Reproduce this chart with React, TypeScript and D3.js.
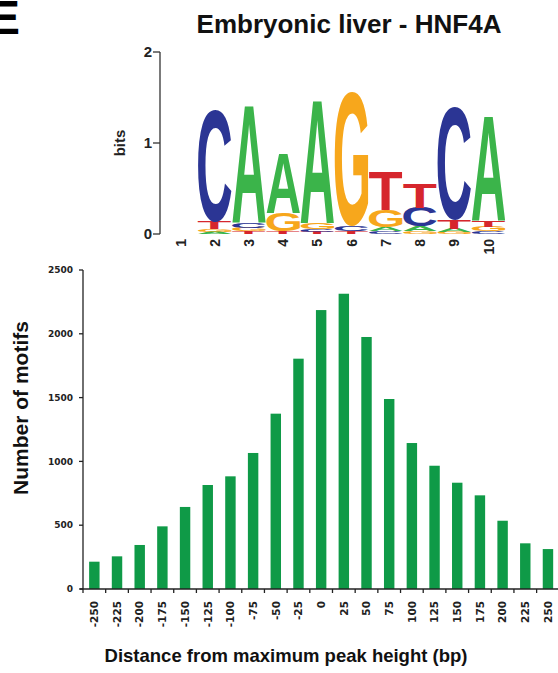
import React, { useMemo } from "react";
import * as d3 from "d3";

// ---------- data ----------
const logoPositions = ["1", "2", "3", "4", "5", "6", "7", "8", "9", "10"];
// stacks listed bottom -> top, heights in bits
const logoStacks: [string, number][][] = [
  [],
  [["A", 0.02], ["G", 0.03], ["T", 0.09], ["C", 1.235]],
  [["T", 0.03], ["G", 0.04], ["C", 0.05], ["A", 1.3]],
  [["T", 0.03], ["G", 0.2], ["A", 0.65]],
  [["T", 0.02], ["C", 0.03], ["G", 0.07], ["A", 1.36]],
  [["T", 0.03], ["C", 0.06], ["G", 1.47]],
  [["C", 0.03], ["A", 0.04], ["G", 0.19], ["T", 0.42]],
  [["G", 0.03], ["A", 0.05], ["C", 0.21], ["T", 0.27]],
  [["G", 0.02], ["A", 0.04], ["T", 0.1], ["C", 1.25]],
  [["C", 0.03], ["G", 0.05], ["T", 0.07], ["A", 1.15]],
];
const bitTicks = [0, 1, 2];

const distances = [-250, -225, -200, -175, -150, -125, -100, -75, -50, -25, 0, 25, 50, 75, 100, 125, 150, 175, 200, 225, 250];
const motifCounts = [214, 256, 345, 491, 643, 815, 883, 1066, 1374, 1805, 2186, 2314, 1975, 1489, 1144, 966, 833, 734, 535, 358, 313];
const countTicks = [0, 500, 1000, 1500, 2000, 2500];

const baseColors: Record<string, string> = {
  A: "#3bb44a",
  C: "#2b3594",
  G: "#f7a71c",
  T: "#d6262d",
};

const LOGO_FONT = "'Liberation Sans', Arial, sans-serif";

function useGlyphMetrics() {
  return useMemo(() => {
    const ctx = document.createElement("canvas").getContext("2d")!;
    ctx.font = `bold 100px ${LOGO_FONT}`;
    const out: Record<string, { l: number; r: number; a: number; d: number }> = {};
    for (const ch of ["A", "C", "G", "T"]) {
      const m = ctx.measureText(ch);
      out[ch] = {
        l: m.actualBoundingBoxLeft,
        r: m.actualBoundingBoxRight,
        a: m.actualBoundingBoxAscent,
        d: m.actualBoundingBoxDescent,
      };
    }
    return out;
  }, []);
}

export default function App() {
  const gm = useGlyphMetrics();

  // logo scales
  const lx = d3.scaleBand<string>().domain(logoPositions).range([163, 506]).padding(0.02);
  const ly = d3.scaleLinear().domain([0, 2]).range([234, 52]);

  // bar scales
  const bx = d3
    .scaleBand<string>()
    .domain(distances.map(String))
    .range([83, 559.3])
    .paddingInner(0.54)
    .paddingOuter(0.27);
  const by = d3.scaleLinear().domain([0, 2500]).range([589, 270]);
  const step = bx.step();
  const bandStarts = d3.range(distances.length + 1).map((i) => 83 + i * step);

  const letters: JSX.Element[] = [];
  logoStacks.forEach((stack, ci) => {
    const pos = logoPositions[ci];
    const x0 = lx(pos)!;
    const w = lx.bandwidth();
    let cum = 0;
    stack.forEach(([ch, h], li) => {
      const yBottom = ly(cum);
      const yTop = ly(cum + h);
      cum += h;
      const m = gm[ch];
      const inkW = m.l + m.r;
      const inkH = m.a + m.d;
      const sx = w / inkW;
      const sy = (yBottom - yTop) / inkH;
      letters.push(
        <text
          key={`${ci}-${li}`}
          transform={`translate(${x0},${yTop}) scale(${sx},${sy}) translate(${m.l},${m.a})`}
          fontFamily={LOGO_FONT}
          fontWeight="bold"
          fontSize={100}
          fill={baseColors[ch]}
        >
          {ch}
        </text>
      );
    });
  });

  return (
    <svg
      width={558}
      height={673}
      style={{ position: "absolute", left: 0, top: 0, background: "#fff" }}
    >
      <rect width={558} height={673} fill="#fff" />
      {/* panel letter */}
      <text x={-12} y={34} fontFamily={LOGO_FONT} fontWeight="bold" fontSize={48} fill="#000">
        E
      </text>
      {/* title */}
      <text
        x={349}
        y={33}
        textAnchor="middle"
        fontFamily={LOGO_FONT}
        fontWeight="bold"
        fontSize={26}
        fill="#111"
      >
        Embryonic liver - HNF4A
      </text>

      {/* logo axis */}
      <g stroke="#333" strokeWidth={1.3} fill="none">
        <line x1={160} x2={160} y1={ly(2)} y2={ly(0)} />
        {bitTicks.map((t) => (
          <line key={t} x1={153} x2={160} y1={ly(t)} y2={ly(t)} />
        ))}
      </g>
      {bitTicks.map((t) => (
        <text
          key={t}
          x={152}
          y={ly(t)}
          dy="0.36em"
          textAnchor="end"
          fontFamily={LOGO_FONT}
          fontWeight="bold"
          fontSize={15}
          fill="#222"
        >
          {t}
        </text>
      ))}
      <text
        transform={`translate(125,${ly(1)}) rotate(-90)`}
        textAnchor="middle"
        fontFamily={LOGO_FONT}
        fontWeight="bold"
        fontSize={15}
        fill="#222"
      >
        bits
      </text>
      {logoPositions.map((p) => (
        <text
          key={p}
          transform={`translate(${lx(p)! + lx.bandwidth() / 2},239) rotate(-90)`}
          dy="0.36em"
          textAnchor="end"
          fontFamily={LOGO_FONT}
          fontWeight="bold"
          fontSize={14}
          fill="#222"
        >
          {p}
        </text>
      ))}
      <g>{letters}</g>

      {/* bars */}
      {distances.map((d, i) => (
        <rect
          key={d}
          x={bx(String(d))!}
          width={bx.bandwidth()}
          y={by(motifCounts[i])}
          height={by(0) - by(motifCounts[i])}
          fill="#0f9a47"
        />
      ))}

      {/* bar axes */}
      <g stroke="#222" strokeWidth={1.3} fill="none">
        <line x1={83} x2={83} y1={by(2500)} y2={by(0)} />
        <line x1={80} x2={558} y1={by(0)} y2={by(0)} />
        {countTicks.map((t) => (
          <line key={t} x1={79} x2={83} y1={by(t)} y2={by(t)} />
        ))}
        {bandStarts.map((x, i) => (
          <line key={i} x1={x} x2={x} y1={by(0)} y2={by(0) + 4} />
        ))}
      </g>
      {countTicks.map((t) => (
        <text
          key={t}
          x={73}
          y={by(t)}
          dy="0.36em"
          textAnchor="end"
          fontFamily="'DejaVu Sans', sans-serif"
          fontWeight="bold"
          fontSize={9}
          fill="#222"
        >
          {t}
        </text>
      ))}
      {distances.map((d) => (
        <text
          key={d}
          transform={`translate(${bx(String(d))! + bx.bandwidth() / 2},601) rotate(-90)`}
          dy="0.36em"
          textAnchor="end"
          fontFamily="'DejaVu Sans', sans-serif"
          fontWeight="bold"
          fontSize={10.5}
          fill="#222"
        >
          {d}
        </text>
      ))}
      <text
        transform="translate(28,408) rotate(-90)"
        textAnchor="middle"
        fontFamily={LOGO_FONT}
        fontWeight="bold"
        fontSize={21}
        fill="#111"
      >
        Number  of motifs
      </text>
      <text
        x={286}
        y={662}
        textAnchor="middle"
        fontFamily={LOGO_FONT}
        fontWeight="bold"
        fontSize={18.5}
        fill="#111"
      >
        Distance from maximum peak height (bp)
      </text>
    </svg>
  );
}
